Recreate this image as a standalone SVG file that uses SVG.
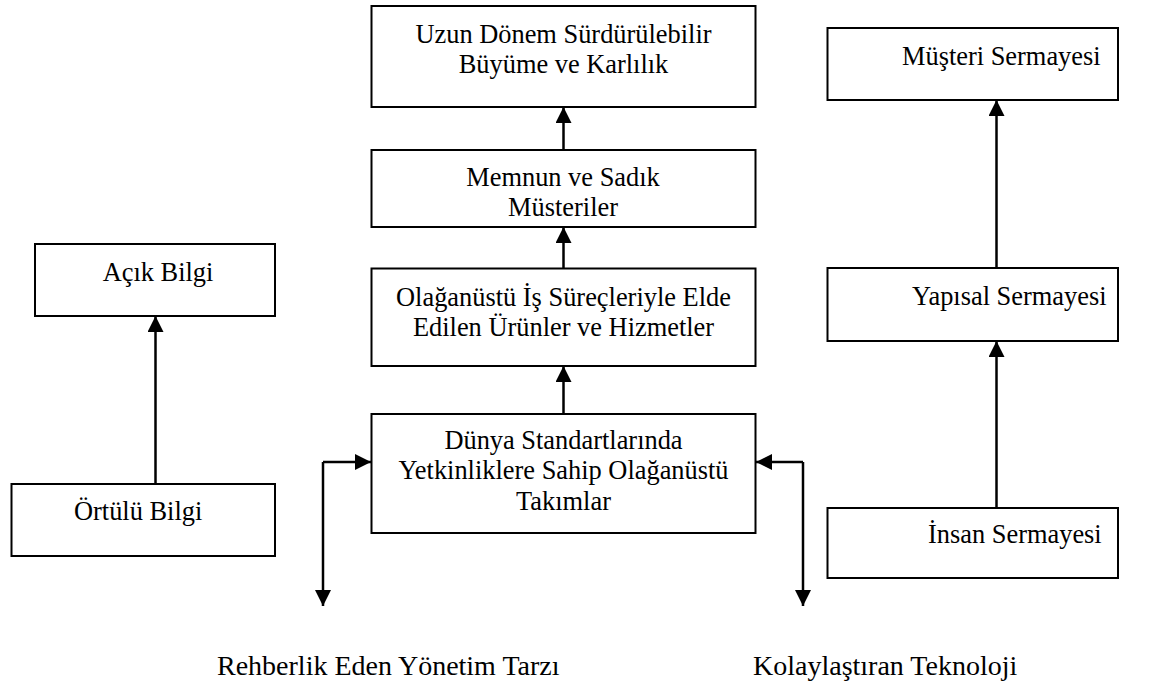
<svg xmlns="http://www.w3.org/2000/svg" width="1150" height="693" viewBox="0 0 1150 693" font-family="'Liberation Serif', 'DejaVu Serif', serif">
<style>
.box{fill:#fff;stroke:#000;stroke-width:2}
text{font-family:'Liberation Serif','DejaVu Serif',serif;fill:#000}
.t{font-size:26.4px}
.c{text-anchor:middle}
.big{font-size:28px}
.ln{fill:none;stroke:#000;stroke-width:2.5}
</style>
<defs>
<marker id="ah" viewBox="0 0 16 16" refX="16" refY="8" markerWidth="16" markerHeight="16" markerUnits="userSpaceOnUse" orient="auto">
<path d="M0,0 L16,8 L0,16 z" fill="#000"/>
</marker>
</defs>
<rect width="1150" height="693" fill="#fff"/>
<g id="connectors">
<line class="ln" x1="563.5" y1="150" x2="563.5" y2="107" marker-end="url(#ah)"/>
<line class="ln" x1="563.5" y1="268" x2="563.5" y2="227" marker-end="url(#ah)"/>
<line class="ln" x1="563.5" y1="414" x2="563.5" y2="366" marker-end="url(#ah)"/>
<line class="ln" x1="155.5" y1="484" x2="155.5" y2="316" marker-end="url(#ah)"/>
<line class="ln" x1="996.5" y1="268" x2="996.5" y2="100" marker-end="url(#ah)"/>
<line class="ln" x1="996.5" y1="508" x2="996.5" y2="341" marker-end="url(#ah)"/>
<polyline class="ln" points="323,462 371,462" marker-end="url(#ah)"/>
<polyline class="ln" points="323,462 323,606" marker-end="url(#ah)"/>
<polyline class="ln" points="803,462 756,462" marker-end="url(#ah)"/>
<polyline class="ln" points="803,462 803,606" marker-end="url(#ah)"/>
</g>
<g id="n-uzun">
<rect class="box" x="371.5" y="6" width="384" height="101"/>
<text class="t c" x="563.5" y="42.5" font-family="Liberation Serif">Uzun Dönem Sürdürülebilir</text>
<text class="t c" x="563.5" y="73" font-family="Liberation Serif">Büyüme ve Karlılık</text>
</g>
<g id="n-memnun">
<rect class="box" x="371.5" y="150" width="384" height="77"/>
<text class="t c" x="563" y="186" font-family="Liberation Serif">Memnun ve Sadık</text>
<text class="t c" x="563" y="216" font-family="Liberation Serif">Müsteriler</text>
</g>
<g id="n-olaganustu">
<rect class="box" x="371.5" y="268.5" width="384" height="97.5"/>
<text class="t c" x="563.5" y="305.5" font-family="Liberation Serif">Olağanüstü İş Süreçleriyle Elde</text>
<text class="t c" x="563.5" y="335.5" font-family="Liberation Serif">Edilen Ürünler ve Hizmetler</text>
</g>
<g id="n-dunya">
<rect class="box" x="371.5" y="414" width="384" height="119"/>
<text class="t c" x="563.5" y="448.5" font-family="Liberation Serif">Dünya Standartlarında</text>
<text class="t c" x="563.5" y="479" font-family="Liberation Serif">Yetkinliklere Sahip Olağanüstü</text>
<text class="t c" x="563.5" y="509.5" font-family="Liberation Serif">Takımlar</text>
</g>
<g id="n-acik">
<rect class="box" x="35" y="244" width="240" height="72"/>
<text class="t c" x="158" y="280.5" font-family="Liberation Serif">Açık Bilgi</text>
</g>
<g id="n-ortulu">
<rect class="box" x="11.5" y="484" width="263.5" height="72"/>
<text class="t" x="74" y="520" font-family="Liberation Serif">Örtülü Bilgi</text>
</g>
<g id="n-musteri">
<rect class="box" x="827.5" y="28" width="290.5" height="72"/>
<text class="t" x="902" y="65" font-family="Liberation Serif">Müşteri Sermayesi</text>
</g>
<g id="n-yapisal">
<rect class="box" x="827.5" y="268" width="290.5" height="73"/>
<text class="t" x="912" y="305" font-family="Liberation Serif">Yapısal Sermayesi</text>
</g>
<g id="n-insan">
<rect class="box" x="827.5" y="508" width="290.5" height="70"/>
<text class="t" x="928" y="543" font-family="Liberation Serif">İnsan Sermayesi</text>
</g>
<g id="n-rehberlik">
<text class="big" x="217" y="675" font-family="Liberation Serif">Rehberlik Eden Yönetim Tarzı</text>
</g>
<g id="n-kolay">
<text class="big" x="753" y="675" font-family="Liberation Serif">Kolaylaştıran Teknoloji</text>
</g>
</svg>
